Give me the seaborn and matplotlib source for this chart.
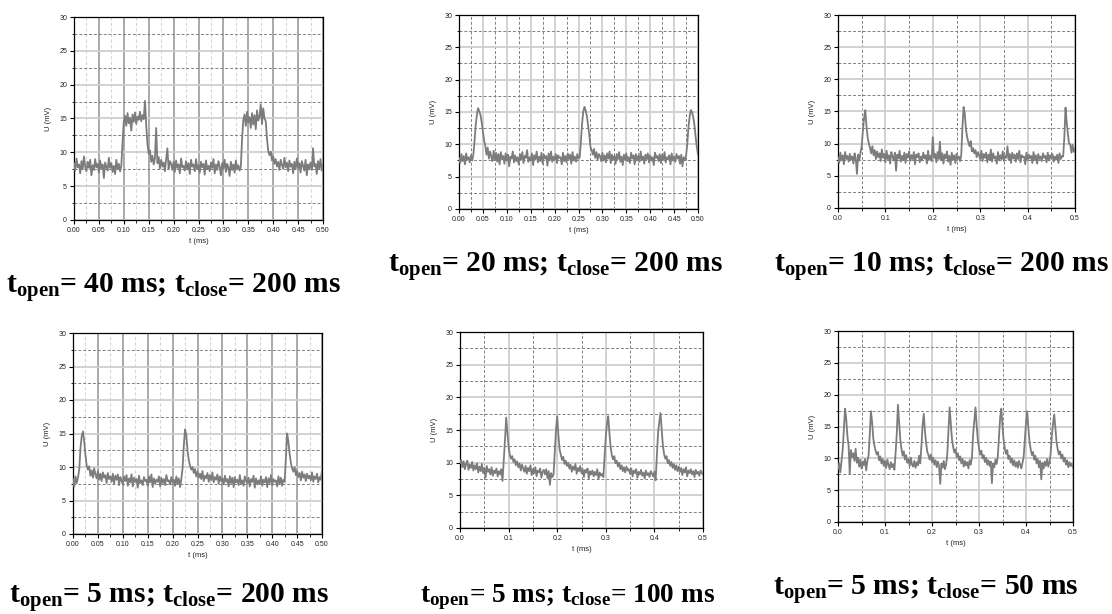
import numpy as np
import pandas as pd
import matplotlib
matplotlib.use("Agg")
import matplotlib.pyplot as plt
from matplotlib.ticker import MultipleLocator, FormatStrFormatter
import seaborn as sns

# ---------------- data (U in mV, sampled uniformly over t = 0 .. 0.5 ms) ----------------
T_START, T_END = 0.0, 0.5

u_40_200 = [
    8.4, 7.3, 9.1, 7.8, 8.2, 6.9, 8.7, 7.5, 9.4, 7.9,
    7.2, 8.6, 7.7, 8.9, 6.6, 8.1, 7.4, 9.0, 7.8, 8.3,
    7.0, 8.8, 7.6, 8.2, 6.2, 8.5, 7.9, 7.3, 9.2, 7.7,
    8.4, 7.1, 8.0, 6.8, 8.9, 7.5, 8.3, 7.2, 8.0, 11.5,
    14.6, 15.4, 13.9, 15.8, 14.3, 15.1, 13.2, 15.6, 14.5, 15.9,
    14.2, 15.3, 14.8, 16.0, 14.6, 15.5, 14.9, 17.6, 14.0, 11.2,
    9.8, 10.3, 8.6, 9.5, 8.2, 9.1, 13.6, 8.4, 9.3, 7.6,
    8.9, 7.9, 8.5, 7.2, 9.0, 10.6, 7.6, 8.7, 8.3, 7.4,
    8.6, 7.1, 8.8, 7.7, 8.2, 6.9, 9.1, 7.8, 8.0, 7.3,
    8.7, 7.5, 8.4, 6.8, 8.9, 7.9, 8.2, 7.2, 9.0, 7.6,
    8.1, 7.0, 8.6, 7.8, 8.3, 6.7, 8.8, 7.5, 8.0, 7.2,
    8.5, 7.7, 9.0, 6.9, 8.2, 7.4, 8.7, 7.9, 6.6, 8.4,
    7.6, 8.9, 7.1, 8.3, 7.8, 6.5, 8.6, 7.4, 8.2, 7.0,
    8.8, 7.5, 8.1, 7.3, 7.9, 12.0, 14.8, 15.6, 13.9, 16.0,
    14.4, 15.2, 13.6, 15.8, 14.1, 15.5, 13.4, 16.2, 14.7, 15.3,
    17.1, 14.2, 16.5, 15.0, 14.6, 12.0, 10.2, 9.6, 10.1, 8.8,
    9.4, 8.3, 9.0, 7.9, 8.6, 7.4, 8.9, 8.1, 7.6, 9.2,
    7.8, 8.5, 7.2, 8.8, 7.9, 8.3, 6.9, 8.6, 7.5, 9.1,
    7.7, 8.4, 7.0, 8.7, 8.0, 7.3, 8.9, 6.6, 8.2, 7.6,
    8.5, 7.4, 10.6, 7.9, 8.3, 6.8, 8.7, 7.6, 9.0, 7.3,
    8.2,
]

u_20_200 = [
    7.9, 7.1, 8.5, 7.4, 8.2, 6.9, 8.6, 7.6, 8.0, 7.2,
    8.3, 7.5, 8.4, 10.5, 13.0, 14.6, 15.6, 15.1, 14.5, 13.4,
    12.0, 10.6, 9.8, 8.4, 9.5, 7.8, 8.9, 8.1, 7.4, 9.0,
    7.6, 8.7, 7.3, 8.5, 6.9, 8.8, 7.7, 8.2, 7.0, 8.6,
    7.5, 8.4, 6.6, 8.1, 7.8, 8.9, 7.2, 8.3, 7.4, 8.0,
    6.9, 8.5, 7.6, 8.8, 7.1, 8.2, 7.9, 9.1, 7.3, 8.0,
    7.5, 8.6, 6.8, 8.3, 7.7, 8.9, 7.2, 8.1, 7.4, 8.7,
    7.0, 8.4, 7.8, 8.2, 6.7, 8.6, 7.5, 8.9, 7.3, 8.1,
    7.6, 8.5, 7.1, 8.3, 7.9, 8.0, 6.9, 8.7, 7.4, 8.2,
    7.2, 8.6, 7.7, 8.4, 7.0, 8.8, 7.5, 8.1, 7.3, 8.5,
    7.8, 8.0, 10.4, 13.2, 15.1, 15.8, 15.2, 14.4, 13.0, 11.5,
    9.6, 9.1, 8.4, 9.3, 7.9, 8.8, 7.6, 8.5, 8.2, 7.4,
    8.7, 7.5, 8.3, 7.2, 8.6, 7.8, 8.9, 7.1, 8.4, 7.6,
    8.2, 7.0, 8.5, 7.7, 8.8, 7.3, 8.1, 6.8, 8.4, 7.6,
    8.6, 7.4, 8.0, 7.1, 8.7, 7.8, 8.3, 6.9, 8.5, 7.5,
    8.2, 7.3, 8.9, 7.6, 8.1, 7.0, 8.4, 7.7, 8.6, 7.2,
    8.3, 7.5, 8.0, 6.8, 8.7, 7.9, 8.2, 7.4, 8.5, 7.1,
    8.4, 7.6, 8.8, 7.2, 8.0, 7.7, 8.3, 6.9, 8.6, 7.5,
    8.1, 7.3, 8.5, 7.8, 8.2, 7.0, 8.4, 6.6, 8.0, 7.6,
    8.2, 10.0, 12.6, 14.3, 15.3, 15.0, 14.2, 13.0, 11.2, 9.6,
    8.4,
]

u_10_200 = [
    7.9, 7.0, 8.6, 7.4, 8.2, 6.8, 8.7, 7.6, 8.1, 7.2,
    8.4, 7.5, 8.0, 6.9, 8.5, 7.7, 5.3, 8.3, 7.4, 8.6,
    9.6, 12.0, 14.0, 15.2, 12.8, 11.0, 10.0, 9.4, 8.5, 9.6,
    8.2, 9.0, 7.6, 8.8, 7.9, 8.5, 7.3, 9.1, 7.8, 8.4,
    7.1, 8.9, 7.6, 8.2, 6.9, 8.7, 8.0, 7.4, 8.6, 5.8,
    8.3, 7.7, 8.9, 7.2, 8.1, 7.5, 8.6, 7.0, 8.4, 7.8,
    8.8, 7.3, 8.2, 7.6, 8.7, 6.8, 8.3, 7.9, 8.5, 7.1,
    8.0, 7.4, 8.6, 7.7, 8.2, 6.9, 8.9, 7.5, 8.1, 7.3,
    11.0, 7.8, 8.4, 7.1, 8.7, 7.6, 10.3, 7.4, 8.5, 6.9,
    8.3, 7.7, 8.8, 7.2, 8.1, 6.7, 8.6, 7.5, 8.2, 7.0,
    8.4, 7.6, 8.0, 7.3, 8.2, 12.5, 15.7, 14.6, 12.2, 11.0,
    10.2, 9.6, 10.4, 8.8, 9.3, 8.5, 9.0, 7.9, 8.7, 8.2,
    7.6, 8.9, 7.3, 8.4, 7.8, 8.6, 7.1, 8.3, 7.5, 9.1,
    7.2, 8.5, 7.7, 8.0, 6.9, 8.7, 7.4, 8.2, 7.6, 8.8,
    7.3, 8.1, 7.8, 9.6, 7.5, 8.4, 7.0, 8.6, 7.7, 8.3,
    7.2, 8.5, 7.6, 8.9, 7.1, 8.2, 7.9, 8.0, 6.8, 8.6,
    7.4, 8.3, 7.7, 8.1, 7.0, 8.7, 7.5, 8.2, 6.9, 8.4,
    7.6, 8.0, 7.3, 8.5, 7.8, 8.1, 7.1, 8.6, 7.4, 8.2,
    7.7, 8.4, 7.2, 8.0, 7.5, 8.3, 7.0, 8.5, 7.6, 8.1,
    8.0, 11.0, 15.6, 13.3, 11.5, 10.0, 9.9, 8.6, 9.8, 8.7,
    9.2,
]

u_5_200 = [
    8.2, 7.1, 8.6, 7.6, 8.4, 9.6, 12.8, 14.6, 15.3, 13.8,
    11.8, 10.2, 9.6, 10.1, 8.7, 9.5, 8.4, 9.8, 8.9, 8.3,
    9.4, 8.1, 9.0, 7.9, 9.2, 8.4, 8.8, 7.6, 9.1, 8.2,
    8.6, 7.8, 9.0, 7.5, 8.7, 8.1, 8.9, 7.3, 8.5, 8.0,
    7.4, 8.6, 7.9, 8.8, 7.2, 8.3, 7.7, 8.9, 7.1, 8.4,
    7.8, 8.2, 6.9, 8.7, 7.6, 8.0, 7.3, 8.5, 7.9, 8.1,
    7.2, 8.6, 7.7, 8.9, 7.0, 8.3, 7.5, 8.1, 7.8, 8.6,
    7.1, 8.4, 7.6, 8.2, 7.3, 8.8, 7.9, 8.0, 7.4, 8.5,
    7.7, 8.1, 7.2, 8.6, 7.5, 8.3, 7.0, 8.2, 9.8, 13.2,
    15.6, 14.8, 12.4, 11.0, 10.2, 9.6, 10.0, 9.1, 9.7, 8.6,
    9.3, 8.4, 9.0, 8.2, 9.4, 7.9, 8.7, 8.3, 9.1, 7.8,
    8.8, 8.0, 9.2, 7.7, 8.5, 8.1, 8.9, 7.5, 8.6, 7.9,
    8.3, 7.4, 8.7, 7.8, 8.2, 7.1, 8.6, 7.6, 8.4, 7.0,
    8.5, 7.7, 8.1, 7.3, 8.8, 7.5, 8.0, 7.2, 8.6, 7.9,
    7.6, 8.4, 7.1, 8.2, 7.8, 8.7, 6.9, 8.3, 7.4, 8.0,
    7.5, 8.6, 7.2, 8.1, 7.7, 8.5, 7.0, 8.3, 7.6, 8.8,
    7.3, 8.2, 7.8, 8.0, 7.1, 8.6, 7.5, 8.4, 7.2, 8.1,
    7.8, 11.5, 15.0, 13.8, 12.0, 10.6, 9.8, 9.3, 10.0, 8.8,
    9.4, 8.5, 9.1, 8.0, 9.3, 8.4, 8.9, 7.9, 9.0, 8.3,
    8.7, 8.0, 9.2, 7.8, 8.6, 8.2, 9.0, 7.7, 8.5, 8.1,
    9.5,
]

u_5_100 = [
    9.9, 10.4, 9.3, 10.2, 9.0, 9.8, 10.3, 8.9, 9.7, 9.2,
    10.1, 8.8, 9.6, 9.0, 9.9, 8.5, 9.4, 8.7, 9.8, 8.4,
    9.2, 7.7, 9.5, 8.6, 9.0, 8.2, 9.3, 8.0, 8.8, 8.4,
    9.1, 7.9, 8.7, 8.2, 9.0, 7.2, 10.2, 13.4, 16.9, 14.6,
    12.4, 11.2, 10.6, 11.0, 10.1, 10.5, 9.6, 10.2, 9.3, 9.9,
    8.8, 9.7, 9.1, 8.6, 9.5, 8.3, 9.2, 8.7, 9.6, 8.1,
    9.0, 8.4, 9.3, 7.9, 8.8, 8.5, 9.1, 7.7, 8.6, 8.9,
    8.2, 9.0, 7.6, 8.7, 6.6, 8.4, 7.8, 8.2, 11.5, 15.0,
    17.1, 14.2, 12.0, 11.2, 10.4, 10.9, 9.8, 10.3, 9.5, 10.0,
    9.1, 9.7, 8.6, 9.4, 8.9, 9.8, 8.3, 9.2, 8.7, 9.5,
    8.4, 9.0, 7.8, 8.9, 8.5, 9.1, 7.6, 8.7, 8.2, 8.8,
    7.9, 8.6, 8.1, 9.0, 7.5, 8.5, 8.0, 8.3, 7.8, 11.0,
    14.0, 16.0, 17.1, 14.5, 12.3, 11.1, 10.5, 11.0, 9.9, 10.3,
    9.4, 10.0, 9.0, 9.6, 8.7, 9.3, 8.5, 9.4, 8.8, 9.0,
    8.3, 9.1, 7.9, 8.8, 8.4, 9.0, 7.7, 8.6, 8.2, 8.9,
    8.0, 8.5, 7.6, 8.8, 8.1, 8.4, 7.8, 8.7, 8.3, 7.9,
    8.6, 7.3, 11.0, 14.5, 16.2, 17.6, 15.0, 12.6, 11.3, 10.6,
    11.0, 9.9, 10.4, 9.5, 10.1, 9.2, 9.8, 8.9, 9.6, 8.7,
    9.4, 8.6, 9.2, 8.1, 9.0, 8.5, 9.3, 7.9, 8.8, 8.4,
    9.0, 8.2, 8.7, 7.8, 8.9, 8.3, 8.6, 8.0, 8.8, 8.4,
    8.2,
]

u_5_50 = [
    8.3, 9.2, 7.8, 9.6, 11.4, 14.6, 17.8, 16.2, 13.5, 12.0,
    7.6, 11.3, 10.2, 10.8, 9.6, 11.5, 9.3, 10.1, 8.7, 9.8,
    8.4, 9.5, 8.9, 9.9, 8.1, 9.6, 10.4, 13.6, 17.4, 15.8,
    13.2, 12.0, 11.2, 10.6, 11.0, 9.7, 10.3, 9.2, 9.9, 8.8,
    9.6, 8.5, 9.8, 9.0, 8.3, 9.4, 8.6, 9.1, 8.2, 10.8,
    13.8, 18.4, 15.6, 13.0, 11.5, 10.4, 11.1, 9.8, 10.5, 9.3,
    9.9, 8.8, 10.1, 9.0, 8.7, 9.6, 8.5, 9.4, 8.9, 10.4,
    9.2, 12.0, 15.2, 17.0, 14.2, 12.4, 11.0, 10.5, 9.8, 10.6,
    9.4, 10.1, 9.0, 9.7, 8.6, 9.5, 8.8, 6.0, 9.2, 8.5,
    9.6, 8.3, 9.0, 10.6, 14.2, 18.0, 15.4, 13.0, 11.8, 10.9,
    11.4, 10.2, 10.8, 9.7, 10.3, 9.2, 9.9, 8.7, 9.6, 8.9,
    9.4, 8.4, 9.7, 9.0, 10.2, 13.8, 16.0, 18.0, 15.2, 12.9,
    11.6, 10.6, 11.2, 10.0, 10.5, 9.4, 10.1, 9.0, 9.7, 8.8,
    9.5, 6.1, 9.2, 8.6, 9.8, 9.1, 10.3, 13.4, 16.4, 17.8,
    15.0, 12.8, 11.5, 10.7, 11.3, 9.9, 10.4, 9.3, 10.0, 8.9,
    9.7, 8.7, 9.4, 8.5, 9.6, 9.0, 8.4, 9.3, 10.2, 12.8,
    15.6, 17.4, 14.8, 12.6, 11.4, 10.5, 11.0, 9.8, 10.4, 9.2,
    9.9, 8.6, 9.6, 6.7, 9.3, 8.4, 9.5, 8.8, 9.9, 8.7,
    9.4, 10.8, 13.6, 15.4, 16.9, 14.8, 12.5, 11.4, 10.6, 11.1,
    10.0, 10.6, 9.5, 10.1, 9.0, 9.7, 8.6, 9.4, 8.8, 9.2,
    8.5,
]

captions = [
    r"$\mathrm{t_{open}}$= 40 ms; $\mathrm{t_{close}}$= 200 ms",
    r"$\mathrm{t_{open}}$= 20 ms; $\mathrm{t_{close}}$= 200 ms",
    r"$\mathrm{t_{open}}$= 10 ms; $\mathrm{t_{close}}$= 200 ms",
    r"$\mathrm{t_{open}}$= 5 ms; $\mathrm{t_{close}}$= 200 ms",
    r"$\mathrm{t_{open}}$= 5 ms; $\mathrm{t_{close}}$= 100 ms",
    r"$\mathrm{t_{open}}$= 5 ms; $\mathrm{t_{close}}$= 50 ms",
]
series = [u_40_200, u_20_200, u_10_200, u_5_200, u_5_100, u_5_50]
x_major = [0.05, 0.05, 0.1, 0.05, 0.1, 0.1]
x_fmt = ["%.2f", "%.2f", "%.1f", "%.2f", "%.1f", "%.1f"]
x_label = "t (ms)"
y_label = "U (mV)"
y_ticks_major = 5
y_lim = (0, 30)

# ---------------- layout (pixels in a 1112 x 614 canvas) ----------------
W, H = 1112, 614
axes_px = [  # left, right, top, bottom
    (74, 323, 17, 220),
    (459, 698, 15, 209),
    (838, 1075, 15, 208),
    (73, 322, 333, 534),
    (460, 703, 332, 528),
    (838, 1073, 331, 522),
]
caption_pos = [(174, 293, 21.3), (556, 272, 21.3), (942, 272, 21.3),
               (169, 603, 21.3), (568, 602, 19.6), (926, 595, 21.3)]
# grid style: panels 1 and 4 have strong vertical majors
strong_vertical = [True, False, False, True, False, False]

sns.set_theme(style="white")
plt.rcParams["font.family"] = ["Liberation Sans", "DejaVu Sans"]
plt.rcParams["mathtext.fontset"] = "custom"
plt.rcParams["mathtext.rm"] = "Liberation Serif:bold"
plt.rcParams["mathtext.it"] = "Liberation Serif:bold"
plt.rcParams["mathtext.bf"] = "Liberation Serif:bold"

fig = plt.figure(figsize=(W / 100, H / 100), dpi=100)
fig.patch.set_facecolor("white")

line_color = "#7c7c7c"
for k in range(6):
    l, r, t, b = axes_px[k]
    ax = fig.add_axes([l / W, 1 - b / H, (r - l) / W, (b - t) / H])
    u = np.asarray(series[k], dtype=float)
    tt = np.linspace(T_START, T_END, len(u))
    df = pd.DataFrame({"t": tt, "U": u})
    sns.lineplot(data=df, x="t", y="U", ax=ax, color=line_color,
                 linewidth=1.3, estimator=None, sort=False, zorder=3)
    ax.set_xlim(T_START, T_END)
    ax.set_ylim(*y_lim)
    ax.xaxis.set_major_locator(MultipleLocator(x_major[k]))
    ax.xaxis.set_minor_locator(MultipleLocator(x_major[k] / 2))
    ax.xaxis.set_major_formatter(FormatStrFormatter(x_fmt[k]))
    ax.yaxis.set_major_locator(MultipleLocator(y_ticks_major))
    ax.yaxis.set_minor_locator(MultipleLocator(y_ticks_major / 2))
    ax.set_axisbelow(True)
    dash = (0, (3, 2))
    if strong_vertical[k]:
        ax.grid(which="major", axis="x", color="#a2a2a2", lw=1.3, ls="-")
        ax.grid(which="minor", axis="x", color="#d6d6d6", lw=0.8, ls=dash)
    else:
        ax.grid(which="major", axis="x", color="#cfcfcf", lw=1.3, ls="-")
        ax.grid(which="minor", axis="x", color="#808080", lw=0.7, ls=dash)
    ax.grid(which="major", axis="y", color="#cfcfcf", lw=1.3, ls="-")
    ax.grid(which="minor", axis="y", color="#808080", lw=0.7, ls=dash)
    for s in ax.spines.values():
        s.set_color("black")
        s.set_linewidth(0.9)
        s.set_visible(True)
    ax.tick_params(which="major", direction="out", length=3, width=0.8,
                   color="black", labelsize=5, pad=2, labelcolor="#222222",
                   bottom=True, left=True, top=False, right=False)
    ax.tick_params(which="minor", direction="out", length=1.8, width=0.6,
                   color="black", bottom=True, left=True, top=False, right=False)
    ax.set_xlabel(x_label, fontsize=5.5, labelpad=3, color="#222222")
    ax.set_ylabel(y_label, fontsize=5.5, labelpad=5, color="#222222")
    cx, cy, fs = caption_pos[k]
    fig.text(cx / W, 1 - cy / H, captions[k], ha="center", va="baseline",
             fontsize=fs, fontweight="bold", family="Liberation Serif",
             color="black")

fig.savefig("out.png", dpi=100, facecolor="white")
